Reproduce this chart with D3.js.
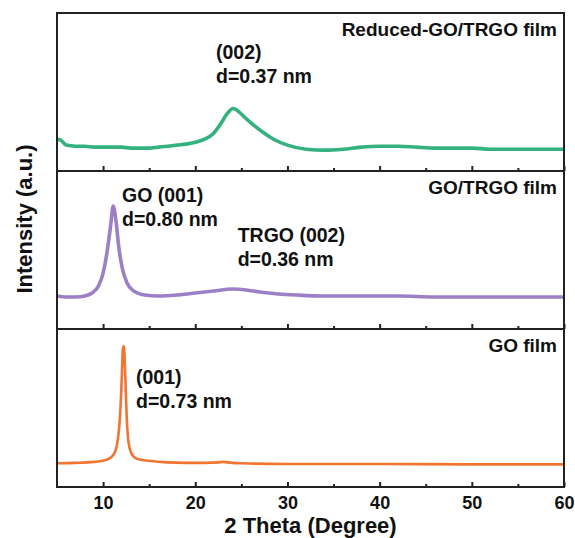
<!DOCTYPE html>
<html>
<head>
<meta charset="utf-8">
<script src="https://cdn.jsdelivr.net/npm/d3@7"></script>
<style>
  body { margin: 0; background: #fff; }
  text { font-family: "Liberation Sans", Arial, sans-serif; font-weight: bold; fill: #111; }
</style>
</head>
<body>
<div id="xrd"></div>
<script>
const width = 575,
      height = 538,
      margin = ({ top: 13, right: 11, bottom: 51, left: 57 });

// 2 theta (degree) and intensity (a.u., per panel 0-100)
const reducedTheta = [5, 5.4, 6, 7, 8, 9, 10, 11, 12, 13, 14, 15, 16, 17, 18, 19, 20, 21, 22, 22.8, 23.4, 24.1, 24.8, 25.6, 26.5, 27.5, 28.5, 30, 32, 34, 36, 38, 40, 42, 44, 46, 48, 50, 52, 54, 56, 58, 60];
const reducedInt   = [20.1, 19.5, 16.4, 15.7, 15.7, 15.1, 15.1, 15.1, 15.1, 14.5, 14.5, 14.5, 15.1, 15.7, 16.4, 17.0, 18.2, 20.1, 23.9, 30.2, 35.8, 39.6, 37.1, 32.7, 28.3, 23.9, 20.1, 16.4, 13.8, 13.2, 13.8, 15.1, 15.7, 15.7, 15.1, 14.5, 14.5, 14.5, 13.8, 13.8, 13.8, 13.8, 13.8];

const goTrgoTheta = [5, 6, 7, 8, 8.8, 9.5, 10, 10.4, 10.8, 11.1, 11.4, 11.7, 12.1, 12.6, 13.3, 14.5, 16, 18, 20, 22, 24, 25.5, 27, 29, 31, 34, 38, 42, 46, 50, 55, 60];
const goTrgoInt   = [20.9, 20.3, 20.3, 20.9, 22.8, 27.2, 35.4, 47.5, 64.6, 77.8, 68.4, 51.9, 38.0, 29.1, 24.1, 21.5, 20.9, 21.5, 22.8, 24.1, 25.3, 24.7, 23.4, 22.2, 21.5, 20.9, 20.9, 20.9, 20.3, 20.3, 20.3, 20.3];

const goTheta = [5, 7, 9, 10, 10.8, 11.3, 11.6, 11.85, 12.0, 12.15, 12.25, 12.4, 12.55, 12.75, 13.1, 13.7, 15, 17, 19, 21, 22.5, 23, 23.5, 25, 30, 40, 50, 60];
const goInt   = [15.0, 15.3, 15.9, 16.6, 18.5, 22.3, 29.9, 45.9, 65.0, 87.3, 89.2, 71.3, 45.9, 28.7, 21.0, 17.8, 16.6, 15.6, 15.3, 15.3, 15.6, 15.9, 15.6, 15.0, 14.6, 14.6, 14.3, 14.3];

const panelNames = ["Reduced-GO/TRGO film", "GO/TRGO film", "GO film"];
const panelColors = ["#33b27d", "#9c80c6", "#f27431"];
const xTicks = [10, 20, 30, 40, 50, 60];
const xMinorTicks = [15, 25, 35, 45, 55];

// peak notes: [panel, 2theta, line 1, line 2]
const notes = [
  [0, 22.25, "(002)", "d=0.37 nm"],
  [1, 12.05, "GO (001)", "d=0.80 nm"],
  [1, 24.6, "TRGO (002)", "d=0.36 nm"],
  [2, 13.57, "(001)", "d=0.73 nm"]
];

const series = [
  d3.zip(reducedTheta, reducedInt),
  d3.zip(goTrgoTheta, goTrgoInt),
  d3.zip(goTheta, goInt)
];

const svg = d3.select("#xrd")
    .append("svg")
    .attr("width", width)
    .attr("height", height);

const x = d3.scaleLinear()
    .domain([5, 60])
    .range([margin.left, width - margin.right]);

const panel = d3.scaleBand()
    .domain(d3.range(3))
    .range([margin.top, height - margin.bottom]);

const ph = panel.bandwidth();

const y = d3.scaleLinear()
    .domain([0, 100])
    .range([ph, 0]);

const line = d3.line()
    .x(d => x(d[0]))
    .y(d => y(d[1]))
    .curve(d3.curveMonotoneX);

series.forEach((data, i) => {
    let g = svg.append("g")
        .attr("transform", `translate(0, ${panel(i)})`);

    g.append("path")
        .datum(data)
        .attr("fill", "none")
        .attr("stroke", panelColors[i])
        .attr("stroke-width", i == 2 ? 2.6 : 3.6)
        .attr("stroke-linejoin", "round")
        .attr("d", line);

    // inward ticks along the bottom of each panel
    let ax = g.append("g")
        .attr("transform", `translate(0, ${ph})`)
        .call(d3.axisTop(x).tickValues(xTicks).tickSize(5).tickFormat(""));
    ax.select(".domain").remove();
    ax.selectAll("line").attr("stroke", "#222").attr("stroke-width", 2);

    let mx = g.append("g")
        .attr("transform", `translate(0, ${ph})`)
        .call(d3.axisTop(x).tickValues(xMinorTicks).tickSize(3).tickFormat(""));
    mx.select(".domain").remove();
    mx.selectAll("line").attr("stroke", "#222").attr("stroke-width", 2);

    g.append("text")
        .attr("x", width - margin.right - 7)
        .attr("y", 23)
        .attr("text-anchor", "end")
        .attr("font-size", 19)
        .text(panelNames[i]);

    g.append("rect")
        .attr("x", margin.left)
        .attr("width", width - margin.left - margin.right)
        .attr("height", ph)
        .attr("fill", "none")
        .attr("stroke", "#222")
        .attr("stroke-width", 2);
});

// peak annotations
const noteTop = [46, 31, 71, 55];
notes.forEach((n, k) => {
    let t = svg.append("text")
        .attr("x", x(n[1]))
        .attr("y", panel(n[0]) + noteTop[k])
        .attr("font-size", 19.5);
    t.append("tspan").attr("x", x(n[1])).text(n[2]);
    t.append("tspan").attr("x", x(n[1])).attr("dy", 23.5).text(n[3]);
});

// bottom axis labels
const bx = svg.append("g")
    .attr("transform", `translate(0, ${height - margin.bottom})`)
    .call(d3.axisBottom(x).tickValues(xTicks).tickSize(0).tickPadding(9));
bx.select(".domain").remove();
bx.selectAll("text")
    .attr("font-size", 18)
    .attr("font-family", "Liberation Sans, Arial, sans-serif")
    .attr("font-weight", "bold")
    .attr("fill", "#111");

svg.append("text")
    .attr("x", (margin.left + width - margin.right) / 2)
    .attr("y", 533)
    .attr("text-anchor", "middle")
    .attr("font-size", 22)
    .text("2 Theta (Degree)");

svg.append("text")
    .attr("transform", `translate(32, 219) rotate(-90)`)
    .attr("text-anchor", "middle")
    .attr("font-size", 22)
    .text("Intensity (a.u.)");
</script>
</body>
</html>
